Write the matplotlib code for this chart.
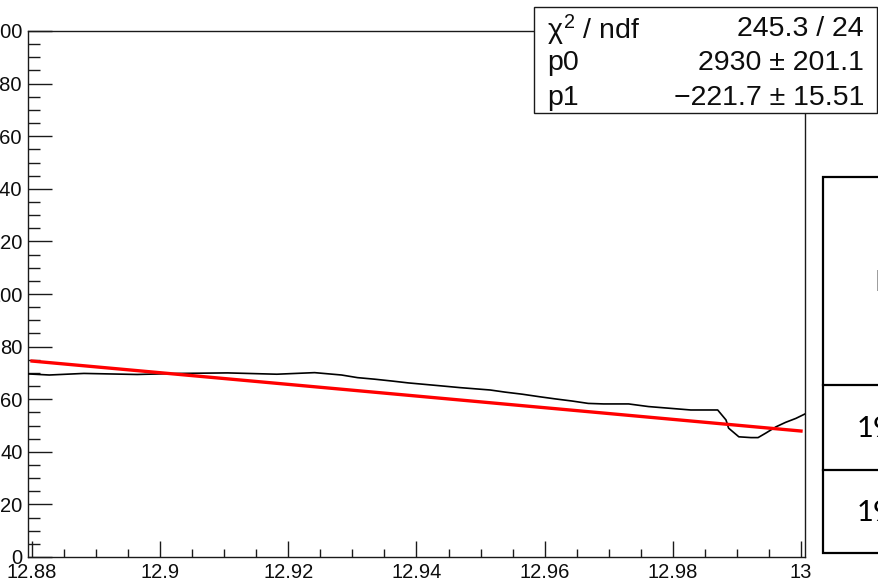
import matplotlib
matplotlib.use("Agg")
import matplotlib.pyplot as plt
from matplotlib.patches import Rectangle
from matplotlib.lines import Line2D
import numpy as np

# Measured spectrum (drawn as a polyline)
spec_x = [12.8795, 12.8827, 12.8881, 12.8964, 12.9030, 12.9105, 12.9182, 12.9241,
          12.9283, 12.9308, 12.9335, 12.9362, 12.9387, 12.9437, 12.9468, 12.9515,
          12.9538, 12.9565, 12.9593, 12.9617, 12.9643, 12.9668, 12.9692, 12.9731,
          12.9762, 12.9828, 12.9870, 12.9883, 12.9887, 12.9903, 12.9922, 12.9933,
          12.9945, 12.9961, 12.9976, 12.9992, 13.0008]
spec_y = [69.6, 69.2, 69.8, 69.4, 69.8, 70.0, 69.5, 70.1,
          69.2, 68.2, 67.6, 66.9, 66.2, 65.1, 64.4, 63.5,
          62.7, 61.9, 60.9, 60.1, 59.3, 58.4, 58.2, 58.2,
          57.2, 55.9, 55.9, 52.1, 49.0, 45.7, 45.4, 45.4,
          47.1, 49.5, 51.2, 52.7, 54.6]

# Linear fit result: f(x) = p0 + p1 * x
chi2, ndf = 245.3, 24
p0, p0_err = 2930, 201.1
p1, p1_err = -221.7, 15.51
fit_range = (12.88, 13.0)

x_ticks = [12.88, 12.90, 12.92, 12.94, 12.96, 12.98, 13.00]
x_tick_labels = ["12.88", "12.9", "12.92", "12.94", "12.96", "12.98", "13"]
y_ticks = list(range(0, 201, 20))
y_tick_labels = [str(v) for v in y_ticks]

# Partially visible table to the right
table_cells = ["E", "19", "19"]

plt.rcParams["font.family"] = ["Liberation Sans", "DejaVu Sans"]
plt.rcParams["mathtext.fontset"] = "custom"
plt.rcParams["mathtext.rm"] = "Liberation Sans"
plt.rcParams["mathtext.it"] = "Liberation Sans"
plt.rcParams["mathtext.bf"] = "Liberation Sans:bold"

W, H = 879, 584
fig = plt.figure(figsize=(W / 100, H / 100), dpi=100)

def fx(px):
    return px / W

def fy(py):
    return 1 - py / H

ax = fig.add_axes([fx(28), fy(557), fx(805) - fx(28), fy(31) - fy(557)])
ax.set_xlim(12.88 - 4 / 6400, 13.0 + 4 / 6400)
ax.set_ylim(0, 200)

ax.plot(spec_x, spec_y, color="#000000", lw=1.2, zorder=3)
fx_line = np.array(fit_range)
ax.plot(fx_line, p0 + p1 * fx_line, color="#ff0000", lw=2.4, zorder=4)

ax.set_xticks(x_ticks)
ax.set_xticklabels(x_tick_labels)
ax.set_xticks(np.arange(12.88, 13.0001, 0.005), minor=True)
ax.set_yticks(y_ticks)
ax.set_yticklabels(y_tick_labels)
ax.set_yticks(np.arange(0, 200.1, 5), minor=True)

ax.tick_params(axis="both", which="both", direction="in", color="#1a1a1a",
               width=1.0, top=False, right=False, labelsize=14.5, labelcolor="#0d0d0d")
ax.tick_params(axis="x", which="major", length=11.5, pad=4)
ax.tick_params(axis="x", which="minor", length=6)
ax.tick_params(axis="y", which="major", length=17.3, pad=4)
ax.tick_params(axis="y", which="minor", length=8.6)
for s in ax.spines.values():
    s.set_linewidth(1.0)
    s.set_color("#1a1a1a")

# Fit statistics box
fig.patches.append(Rectangle((fx(534), fy(113)), fx(877) - fx(534), fy(7) - fy(113),
                             transform=fig.transFigure, facecolor="white",
                             edgecolor="#1a1a1a", lw=1.0, zorder=10))
rows = [(r"$\chi^{2}$ / ndf", f"{chi2:g} / {ndf}"),
        ("p0", f"{p0:g} \u00b1 {p0_err:g}"),
        ("p1", f"\u2212{abs(p1):g} \u00b1 {p1_err:g}")]
row_y = [26, 60, 95]
for (lab, val), yy in zip(rows, row_y):
    fig.text(fx(547), fy(yy), lab, fontsize=20.5, ha="left", va="center_baseline",
             color="#0d0d0d", zorder=11)
    fig.text(fx(864), fy(yy), val, fontsize=20.5, ha="right", va="center_baseline",
             color="#0d0d0d", zorder=11)

# Table on the right edge
fig.patches.append(Rectangle((fx(823), fy(553)), fx(920) - fx(823), fy(177) - fy(553),
                             transform=fig.transFigure, facecolor="white",
                             edgecolor="black", lw=1.6, zorder=10))
for yy in (385, 470):
    fig.lines.append(Line2D([fx(823), fx(920)], [fy(yy), fy(yy)], transform=fig.transFigure,
                            color="black", lw=1.6, zorder=11))
for txt, xx, yy in zip(table_cells, [874, 857, 857], [283, 429, 513]):
    fig.text(fx(xx), fy(yy), txt, fontsize=21, family=["Lato", "DejaVu Sans"],
             ha="left", va="center", color="black", zorder=12)

fig.savefig("out.png", dpi=100)
